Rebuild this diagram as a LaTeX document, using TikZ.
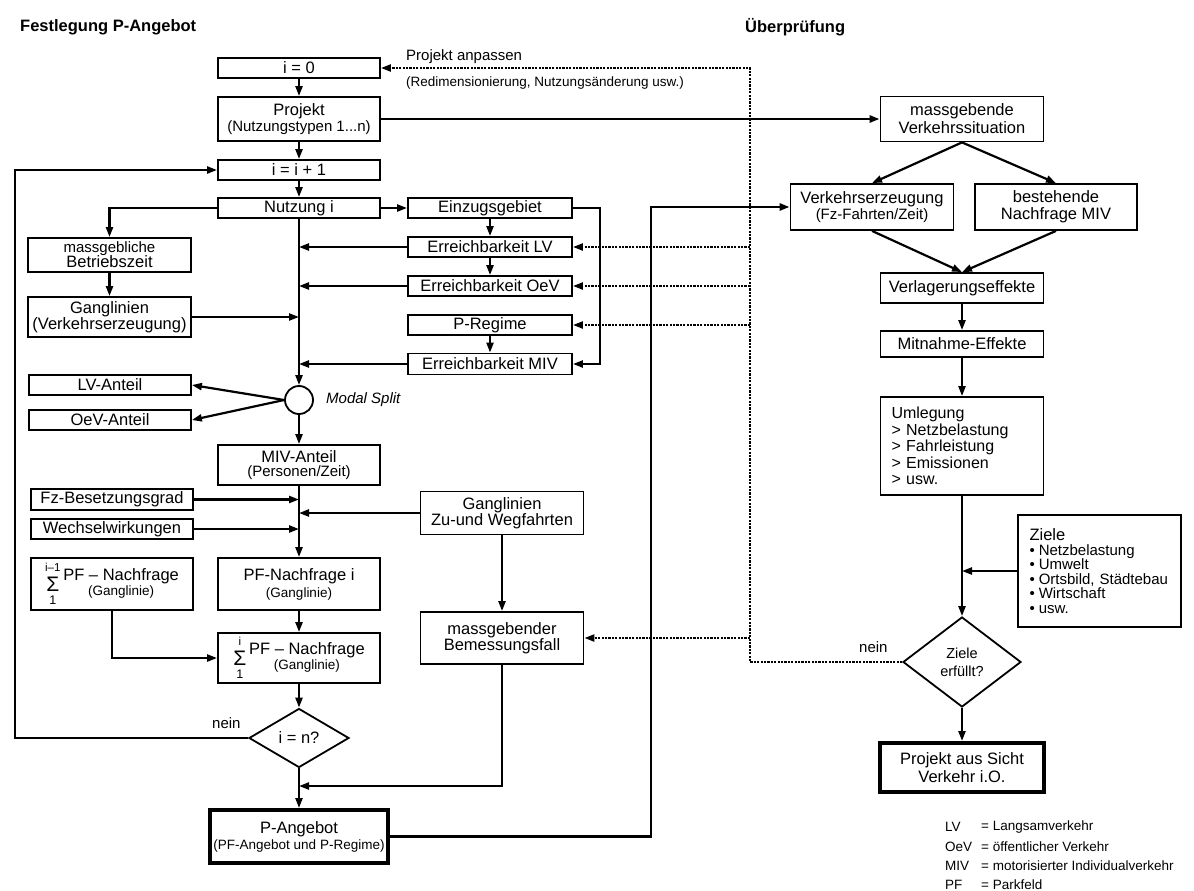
\documentclass[tikz,border=0pt]{standalone}
\usepackage{fontspec}
\setmainfont{Liberation Sans}
\usetikzlibrary{arrows.meta,shapes.geometric}
\newcommand{\fsmain}{\fontsize{16.5}{18}\selectfont}
\newcommand{\fsmid}{\fontsize{15}{16}\selectfont}
\newcommand{\fssub}{\fontsize{13.5}{15}\selectfont}
\newcommand{\pfsum}[1]{$\mathop{\vcenter{\hbox{\fontsize{21}{21}\selectfont Σ}}}\limits_{\raisebox{-7pt}{\fontsize{12.5}{13}\selectfont 1}}^{\raisebox{3pt}{\fontsize{11.5}{12}\selectfont #1}}\vcenter{\hbox{\begin{tabular}{@{}c@{}}PF – Nachfrage\\[-3pt]{\fssub (Ganglinie)}\end{tabular}}}$}

\begin{document}
\begin{tikzpicture}[x=1pt, y=-1pt,
  box/.style={draw, line width=1.8pt, inner sep=0pt, align=center, font=\fsmain},
  heavy/.style={box, line width=4pt},
  decide/.style={draw, diamond, aspect=1.7, line width=1.8pt, inner sep=0pt, align=center, font=\fsmain},
  arr/.style={line width=2.2pt, -{Triangle[length=10pt,width=7pt]}},
  dotarr/.style={arr, dash pattern=on 2.2pt off 1.2pt},
  note/.style={inner sep=0pt, font=\fsmid, anchor=west},
  legend/.style={inner sep=0pt, font=\fssub, anchor=west},
]
  \useasboundingbox (0,0) rectangle (1194,891);
  % headings
  \node[anchor=west, inner sep=0pt, font=\fontsize{16.5}{18}\selectfont\bfseries] (titlea) at (20,27) {Festlegung P-Angebot};
  \node[anchor=west, inner sep=0pt, font=\fontsize{16.5}{18}\selectfont\bfseries] (titleb) at (745,27) {Überprüfung};

  % Festlegung P-Angebot, main column
  \node[box, minimum width=162pt, minimum height=20pt] (izero) at (299,68) {i = 0};
  \node[box, minimum width=162pt, minimum height=44pt] (projekt) at (299,119) {Projekt\\[-2pt]{\fsmid (Nutzungstypen 1...n)}};
  \node[box, minimum width=162pt, minimum height=20pt] (iinc) at (299,170) {i = i + 1};
  \node[box, minimum width=162pt, minimum height=20pt] (nutzung) at (299,208) {Nutzung i};
  \node[draw, circle, line width=1.8pt, minimum size=28pt, inner sep=0pt] (split) at (299,400) {};
  \node[inner sep=0pt, anchor=west, font=\fontsize{15}{16}\selectfont\itshape] (modal) at (326,400) {Modal Split};
  \node[box, minimum width=162pt, minimum height=40pt] (mivanteil) at (299,465) {MIV-Anteil\\[-4pt]{\fsmid (Personen/Zeit)}};
  \node[box, minimum width=162pt, minimum height=52pt] (pfnach) at (299,584) {PF-Nachfrage i\\[-1pt]{\fssub (Ganglinie)}};
  \node[box, minimum width=162pt, minimum height=50pt] (sumcur) at (299,658) {\pfsum{i}};
  \node[decide, minimum width=100pt, minimum height=59pt] (ineq) at (299,738) {i = n?};
  \node[heavy, minimum width=178pt, minimum height=53pt] (pangebot) at (299,836.5) {P-Angebot\\[-2pt]{\fssub (PF-Angebot und P-Regime)}};

  % left column
  \node[box, minimum width=163pt, minimum height=34pt] (betrieb) at (109.5,255) {{\fsmid massgebliche}\\[-3pt]Betriebszeit};
  \node[box, minimum width=163pt, minimum height=40pt] (ganglv) at (109.5,317) {Ganglinien\\[-2pt](Verkehrserzeugung)};
  \node[box, minimum width=162pt, minimum height=20pt] (lvanteil) at (110,385) {LV-Anteil};
  \node[box, minimum width=162pt, minimum height=20pt] (oevanteil) at (110,420) {OeV-Anteil};
  \node[box, minimum width=162pt, minimum height=21pt] (fz) at (112,499.5) {Fz-Besetzungsgrad};
  \node[box, minimum width=162pt, minimum height=20pt] (wechsel) at (112,529) {Wechselwirkungen};
  \node[box, minimum width=162pt, minimum height=52pt] (sumprev) at (112,584) {\pfsum{i–1}};

  % accessibility column
  \node[box, minimum width=164pt, minimum height=20pt] (einzug) at (490,208) {Einzugsgebiet};
  \node[box, minimum width=164pt, minimum height=20pt] (erlv) at (490,247) {Erreichbarkeit LV};
  \node[box, minimum width=164pt, minimum height=20pt] (eroev) at (490,286) {Erreichbarkeit OeV};
  \node[box, minimum width=164pt, minimum height=20pt] (pregime) at (490,325) {P-Regime};
  \node[box, minimum width=164pt, minimum height=21pt] (ermiv) at (490,364) {Erreichbarkeit MIV};
  \node[box, minimum width=163pt, minimum height=43pt] (gangzu) at (502,513) {Ganglinien\\[-2pt]Zu-und Wegfahrten};
  \node[box, minimum width=163pt, minimum height=52pt] (massbem) at (502,638) {massgebender\\[-2pt]Bemessungsfall};

  % Ueberpruefung
  \node[box, minimum width=163pt, minimum height=45pt] (massverk) at (962,119) {massgebende\\Verkehrssituation};
  \node[box, minimum width=163pt, minimum height=46pt] (verkerz) at (872,207) {Verkehrserzeugung\\[-2pt]{\fsmid (Fz-Fahrten/Zeit)}};
  \node[box, minimum width=162pt, minimum height=46pt] (bestnach) at (1056,207) {bestehende\\[-1pt]Nachfrage MIV};
  \node[box, minimum width=163pt, minimum height=30pt] (verlag) at (962,288) {Verlagerungseffekte};
  \node[box, minimum width=163pt, minimum height=26pt] (mitnahme) at (962,344) {Mitnahme-Effekte};
  \node[box, minimum width=163pt, minimum height=98pt, text width=141pt, align=left,
        font=\fontsize{16}{16.5}\selectfont] (umleg) at (962,446)
    {Umlegung\\> Netzbelastung\\> Fahrleistung\\> Emissionen\\> usw.};
  \node[box, minimum width=163pt, minimum height=112pt, text width=140pt, align=left,
        font=\fontsize{15}{14.5}\selectfont] (ziele) at (1099.5,571)
    {{\fsmain Ziele}\\•\hspace{4pt}Netzbelastung\\•\hspace{4pt}Umwelt\\•\hspace{4pt}Ortsbild, Städtebau\\•\hspace{4pt}Wirtschaft\\•\hspace{4pt}usw.};
  \node[decide, aspect=1.3, minimum width=118pt, minimum height=90pt, font=\fontsize{14.5}{18}\selectfont] (zielerf) at (962,662) {Ziele\\erfüllt?};
  \node[heavy, minimum width=164pt, minimum height=49pt] (projok) at (962,767.5) {Projekt aus Sicht\\Verkehr i.O.};

  % loose texts
  \node[note, font=\fontsize{15}{16}\selectfont] (anpassen) at (406,57) {Projekt anpassen};
  \node[note, font=\fssub] (redim) at (406,83) {(Redimensionierung, Nutzungsänderung usw.)};
  \node[note, font=\fontsize{15}{16}\selectfont] (neina) at (212,723) {nein};
  \node[note, font=\fontsize{15}{16}\selectfont] (neinb) at (859,647) {nein};

  % legend
  \node[legend] (lvab) at (945,827) {LV};
  \node[legend] (lvdef) at (981,827) {= Langsamverkehr};
  \node[legend] (oevab) at (945,847) {OeV};
  \node[legend] (oevdef) at (981,847) {= öffentlicher Verkehr};
  \node[legend] (mivab) at (945,866) {MIV};
  \node[legend] (mivdef) at (981,866) {= motorisierter Individualverkehr};
  \node[legend] (pfab) at (945,885) {PF};
  \node[legend] (pfdef) at (981,885) {= Parkfeld};

  % bends
  \coordinate (loopx) at (15,0);
  \coordinate (brx) at (600,0);
  \coordinate (retx) at (651,0);
  \coordinate (dotx) at (750,0);
  \coordinate (bemjoin) at (299,786);

  % connectors, left part
  \draw[arr] (izero.south) -- (projekt.north);
  \draw[arr] (projekt.south) -- (iinc.north);
  \draw[arr] (iinc.south) -- (nutzung.north);
  \draw[arr] (nutzung.south) -- (split.north);
  \draw[arr] (nutzung.east) -- (einzug.west);
  \draw[arr] (einzug.south) -- (erlv.north);
  \draw[arr] (erlv.south) -- (eroev.north);
  \draw[arr] (pregime.south) -- (ermiv.north);
  \draw[arr] (einzug.east) -- (einzug.east -| brx) |- (ermiv.east);
  \draw[arr] (erlv.west) -- (erlv.west -| split.north);
  \draw[arr] (eroev.west) -- (eroev.west -| split.north);
  \draw[arr] (ermiv.west) -- (ermiv.west -| split.north);
  \draw[arr] (nutzung.west) -| (betrieb.north);
  \draw[arr] (betrieb.south) -- (ganglv.north);
  \draw[arr] (ganglv.east) -- (ganglv.east -| split.north);
  \draw[arr] (split.west) -- (lvanteil.east);
  \draw[arr] (split.west) -- (oevanteil.east);
  \draw[arr] (split.south) -- (mivanteil.north);
  \draw[arr] (mivanteil.south) -- (pfnach.north);
  \draw[arr] (fz.east) -- (fz.east -| pfnach.north);
  \draw[arr] (wechsel.east) -- (wechsel.east -| pfnach.north);
  \draw[arr] (gangzu.west) -- (gangzu.west -| pfnach.north);
  \draw[arr] (gangzu.south) -- (massbem.north);
  \draw[arr] (pfnach.south) -- (sumcur.north);
  \draw[arr] (sumprev.south) |- (sumcur.west);
  \draw[arr] (sumcur.south) -- (ineq.north);
  \draw[arr] (ineq.west) -- (ineq.west -| loopx) |- (iinc.west);
  \draw[arr] (massbem.south) |- (bemjoin);
  \draw[arr] (ineq.south) -- (pangebot.north);
  \draw[arr, line width=2.6pt] (pangebot.east) -- (pangebot.east -| retx) |- (verkerz.west);
  \draw[arr, line width=2.6pt] (projekt.east) -- (massverk.west);

  % connectors, right part
  \draw[arr] (massverk.south) -- (verkerz.north);
  \draw[arr] (massverk.south) -- (bestnach.north);
  \draw[arr] (verkerz.south) -- (verlag.north);
  \draw[arr] (bestnach.south) -- (verlag.north);
  \draw[arr] (verlag.south) -- (mitnahme.north);
  \draw[arr] (mitnahme.south) -- (umleg.north);
  \draw[arr] (umleg.south) -- (zielerf.north);
  \draw[arr] (ziele.west) -- (ziele.west -| zielerf.north);
  \draw[arr] (zielerf.south) -- (projok.north);

  % feedback, dotted
  \draw[dotarr] (zielerf.west) -- (zielerf.west -| dotx) |- (izero.east);
  \draw[dotarr] (erlv.east -| dotx) -- (erlv.east);
  \draw[dotarr] (eroev.east -| dotx) -- (eroev.east);
  \draw[dotarr] (pregime.east -| dotx) -- (pregime.east);
  \draw[dotarr] (massbem.east -| dotx) -- (massbem.east);
\end{tikzpicture}
\end{document}
